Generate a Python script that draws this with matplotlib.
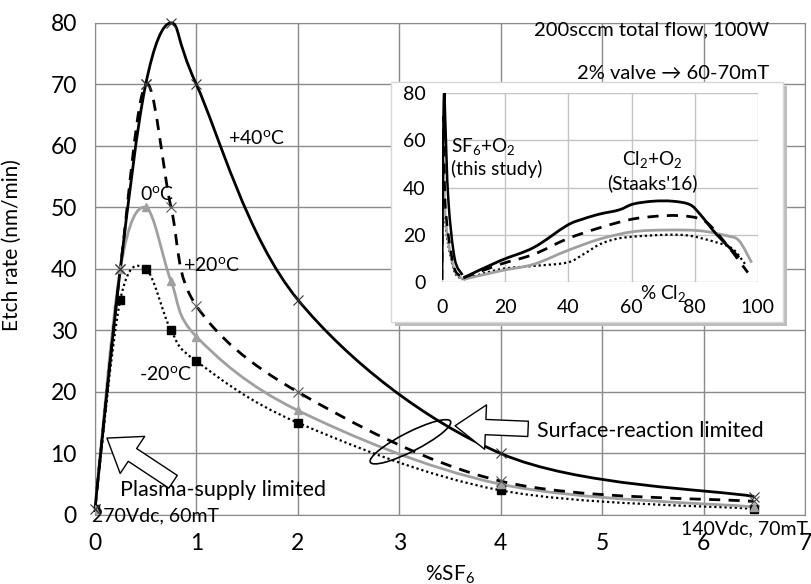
import numpy as np
import matplotlib
matplotlib.use("Agg")
import matplotlib.pyplot as plt
from matplotlib.path import Path
from matplotlib.patches import PathPatch, Ellipse, Rectangle
from matplotlib.transforms import ScaledTranslation

plt.rcParams['font.family'] = ['Lato', 'DejaVu Sans']
plt.rcParams['mathtext.fontset'] = 'custom'
plt.rcParams['mathtext.rm'] = 'Lato'
plt.rcParams['mathtext.it'] = 'Lato:italic'

# main chart: etch rate vs %SF6
sf6 = [0, 0.25, 0.5, 0.75, 1, 2, 4, 6.5]
rate_p40 = [1, 40, 70, 80, 70, 35, 10, 3]
rate_p20 = [1, 40, 70, 50, 34, 20, 5.5, 2.2]
rate_0 = [1, 40, 50, 38, 29, 17, 5, 1.3]
rate_m20 = [1, 35, 40, 30, 25, 15, 4, 1]

# inset: Cl2+O2 (Staaks'16)
cl_x_p40 = [6.8, 18.4, 29, 39.5, 44.7, 50, 56, 60.5, 66.8, 73, 78.4, 81.6, 86.8, 92, 94]
cl_y_p40 = [1.8, 9, 14.6, 23.9, 26.7, 28.8, 30.5, 33, 34.2, 34.2, 32.8, 28.8, 20.3, 13.2, 10.4]
cl_x_p20 = [6.8, 18.4, 29, 39.5, 50, 60.5, 71, 78.4, 83.7, 90, 94, 96.8]
cl_y_p20 = [1.8, 7.5, 11.7, 18.2, 23, 26.7, 28.1, 27.7, 25.3, 16, 9, 4]
cl_x_0 = [6.8, 18.4, 29, 39.5, 50, 60.5, 71, 81.6, 90, 94, 98]
cl_y_0 = [1.1, 4.7, 7.5, 13.2, 18.2, 21.3, 22, 21.7, 19.6, 17.5, 8.2]
cl_x_m20 = [6.8, 18.4, 29, 39.5, 44.7, 50, 55, 60.5, 71, 78.4, 86.8, 92, 96]
cl_y_m20 = [1.1, 5.4, 6.8, 8.2, 11.7, 16, 18.2, 19.2, 20, 19.6, 16.8, 14, 7.5]


def smooth(ax, x, y, **kw):
    # Excel-like smoothed line: Catmull-Rom turned into cubic Bezier segments
    p = np.column_stack([x, y]).astype(float)
    n = len(p)
    verts = [p[0]]
    codes = [Path.MOVETO]
    for i in range(n - 1):
        p0 = p[i - 1] if i > 0 else p[i]
        p3 = p[i + 2] if i + 2 < n else p[i + 1]
        c1 = p[i] + (p[i + 1] - p0) / 6
        c2 = p[i + 1] - (p3 - p[i]) / 6
        verts += [c1, c2, p[i + 1]]
        codes += [Path.CURVE4] * 3
    patch = PathPatch(Path(verts, codes), fill=False, capstyle='butt', **kw)
    ax.add_patch(patch)
    return patch


fig = plt.figure(figsize=(8.11, 5.84), dpi=100)
ax = fig.add_axes([0.1171, 0.1182, 0.8755, 0.8425])

gridc = '#8a8a8a'
ax.set_xlim(0, 7)
ax.set_ylim(0, 80)
ax.set_xticks(range(0, 8))
ax.set_yticks(range(0, 81, 10))
ax.grid(True, color=gridc, lw=1)
ax.set_axisbelow(True)
for s in ax.spines.values():
    s.set_color(gridc)
ax.tick_params(length=0, labelsize=16.5, pad=13)

smooth(ax, sf6, rate_m20, edgecolor='black', lw=1.6, linestyle=(0, (1, 1.3)), zorder=3)
smooth(ax, sf6, rate_0, edgecolor='#a0a0a0', lw=2.0, zorder=3)
smooth(ax, sf6, rate_p20, edgecolor='black', lw=2.0, linestyle=(0, (4, 3)), zorder=3)
smooth(ax, sf6, rate_p40, edgecolor='black', lw=2.0, zorder=4, clip_on=False)
ax.plot(sf6, rate_m20, ls='none', marker='s', ms=6, color='black', zorder=5)
ax.plot(sf6, rate_0, ls='none', marker='^', ms=6, color='#a0a0a0', zorder=5)
ax.plot(sf6, rate_p20, ls='none', marker='x', ms=7, mew=0.8, color='#555555', zorder=5)
ax.plot(sf6, rate_p40, ls='none', marker='x', ms=7, mew=0.8, color='#333333', zorder=5,
        clip_on=False)

ax.set_xlabel('%SF$_6$', fontsize=15, labelpad=7)
ax.set_ylabel('Etch rate (nm/min)', fontsize=15)
ax.yaxis.set_label_coords(-0.103, 0.549)

lab = 14
big = 15.5
ax.text(1.31, 61.3, '+40$^{\\rm o}$C', fontsize=lab, va='center')
ax.text(0.44, 52.2, '0$^{\\rm o}$C', fontsize=lab, va='center')
ax.text(0.87, 40.6, '+20$^{\\rm o}$C', fontsize=lab, va='center')
ax.text(0.43, 23, '-20$^{\\rm o}$C', fontsize=lab, va='center')
ax.text(0.25, 4.0, 'Plasma-supply limited', fontsize=big, va='center')
ax.text(4.36, 13.7, 'Surface-reaction limited', fontsize=big, va='center')
ax.text(-0.03, -0.2, '270Vdc, 60mT', fontsize=14, va='center', clip_on=False)
ax.text(7.03, -2.2, '140Vdc, 70mT', fontsize=14, va='center', ha='right', clip_on=False)
ax.text(6.65, 78.9, '200sccm total flow, 100W', fontsize=14.5, va='center', ha='right')
ax.text(6.65, 71.8, '2% valve \u2192 60-70mT', fontsize=14.5, va='center', ha='right')

arrow = dict(arrowstyle='simple,head_length=1.1,head_width=1.6,tail_width=0.55',
             fc='white', ec='black', lw=1, mutation_scale=20, shrinkA=0, shrinkB=0)
ax.annotate('', xy=(0.118, 12.5), xytext=(0.77, 5.4), arrowprops=arrow, zorder=6)
ax.annotate('', xy=(3.55, 14.5), xytext=(4.27, 14.0), arrowprops=arrow, zorder=6)

etrans = fig.dpi_scale_trans + ScaledTranslation(3.11, 11.9, ax.transData)
ax.add_patch(Ellipse((0, 0), 0.90, 0.19, angle=27, fill=False, ec='black',
                     lw=1.2, transform=etrans, zorder=6))

# inset box with shadow
fig.add_artist(Rectangle((0.4871, 0.4418), 0.4834, 0.411, transform=fig.transFigure,
                         fc='#bdbdbd', ec='none', zorder=0.5))
fig.add_artist(Rectangle((0.4821, 0.4486), 0.4834, 0.411, transform=fig.transFigure,
                         fc='white', ec='#d8d8d8', lw=1, zorder=0.6))

ins = fig.add_axes([0.545, 0.5171, 0.3896, 0.3236], zorder=1)
ins.patch.set_alpha(0)
ins.set_xlim(0, 100)
ins.set_ylim(0, 80)
ins.set_xticks(range(0, 101, 20))
ins.set_yticks(range(0, 81, 20))
ins.grid(True, color='#c4c4c4', lw=1)
for s in ins.spines.values():
    s.set_visible(False)
ins.tick_params(length=0, labelsize=14, pad=12)

smooth(ins, sf6, rate_m20, edgecolor='black', lw=1.3, linestyle=(0, (1, 1.3)), zorder=3)
smooth(ins, sf6, rate_0, edgecolor='#a0a0a0', lw=1.8, zorder=3)
smooth(ins, sf6, rate_p20, edgecolor='black', lw=1.8, linestyle=(0, (4, 3)), zorder=3)
smooth(ins, sf6, rate_p40, edgecolor='black', lw=1.8, zorder=4)
smooth(ins, cl_x_m20, cl_y_m20, edgecolor='black', lw=1.6, linestyle=(0, (1, 1.3)), zorder=3)
smooth(ins, cl_x_0, cl_y_0, edgecolor='#a0a0a0', lw=2.0, zorder=3)
smooth(ins, cl_x_p20, cl_y_p20, edgecolor='black', lw=2.0, linestyle=(0, (4, 3)), zorder=3)
smooth(ins, cl_x_p40, cl_y_p40, edgecolor='black', lw=2.0, zorder=4)

ins.text(2.8, 57.4, 'SF$_6$+O$_2$', fontsize=13.7, va='center')
ins.text(2.8, 47.7, '(this study)', fontsize=13.7, va='center')
ins.text(66.5, 52, 'Cl$_2$+O$_2$', fontsize=13.7, va='center', ha='center')
ins.text(66.5, 42, "(Staaks'16)", fontsize=13.7, va='center', ha='center')
ins.text(70, -5, '% Cl$_2$', fontsize=13.7, va='center', ha='center', clip_on=False)

fig.savefig('out.png', dpi=100)
